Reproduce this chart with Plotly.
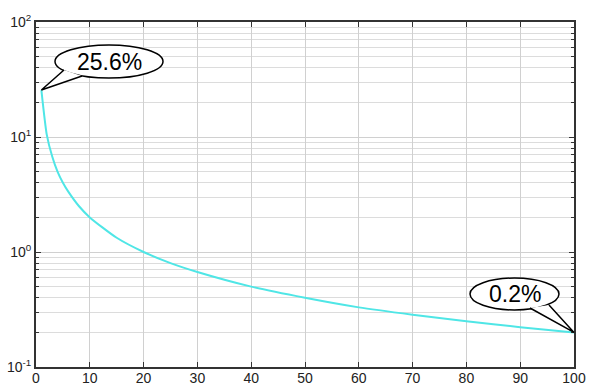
import plotly.graph_objects as go
import math

# Data
x_vals = [1, 2, 3, 4, 5, 6, 8, 10, 15, 20, 25, 30, 40, 50, 60, 70, 80, 90, 100]
y_vals = [25.6, 10.5, 6.8, 5.0, 4.0, 3.35, 2.5, 2.0, 1.33, 1.0, 0.8, 0.67, 0.5, 0.4, 0.33, 0.285, 0.25, 0.222, 0.2]

x_ticks = list(range(0, 101, 10))
y_ticks = [0.1, 1, 10, 100]
y_ticktext = ["10<sup>-1</sup>", "10<sup>0</sup>", "10<sup>1</sup>", "10<sup>2</sup>"]
y_minor = [k * 10 ** e for e in (-1, 0, 1) for k in range(2, 10)]

callout_texts = ["25.6%", "0.2%"]

# Layout geometry (pixels)
W, H = 590, 387
L, R, T, B = 36, 16, 22, 20
PW, PH = W - L - R, H - T - B
XR = [0, 100]
YR = [-1, 2]


def px2paper(X, Y):
    return (X - L) / PW, (H - B - Y) / PH


def data2px(x, y):
    X = L + (x - XR[0]) / (XR[1] - XR[0]) * PW
    Y = H - B - (math.log10(y) - YR[0]) / (YR[1] - YR[0]) * PH
    return X, Y


fig = go.Figure()
fig.add_trace(go.Scatter(x=x_vals, y=y_vals, mode="lines",
                         line=dict(color="#4FE6E6", width=2, shape="spline", smoothing=0.6),
                         hoverinfo="skip", showlegend=False))

shapes = []
annotations = []


def callout(text, cx, cy, rx, ry, base1, base2, tip):
    x0, y0 = px2paper(cx - rx, cy + ry)
    x1, y1 = px2paper(cx + rx, cy - ry)
    shapes.append(dict(type="circle", xref="paper", yref="paper", x0=x0, y0=y0, x1=x1, y1=y1,
                       line=dict(color="black", width=1.5), fillcolor="white", layer="above"))
    pts = [px2paper(*base1), px2paper(*tip), px2paper(*base2)]
    path = "M {} {} L {} {} L {} {}".format(pts[0][0], pts[0][1], pts[1][0], pts[1][1], pts[2][0], pts[2][1])
    shapes.append(dict(type="path", xref="paper", yref="paper", path=path,
                       line=dict(color="black", width=1.5), fillcolor="white", layer="above"))
    ax, ay = px2paper(cx, cy)
    annotations.append(dict(xref="paper", yref="paper", x=ax, y=ay, text=text, showarrow=False,
                            font=dict(family="Liberation Sans, Arial, sans-serif", size=23, color="black"),
                            xanchor="center", yanchor="middle"))


tip1 = data2px(x_vals[0], y_vals[0])
callout(callout_texts[0], 109, 61.5, 54, 16.5, (64, 70), (82, 76), tip1)
tip2 = data2px(x_vals[-1], y_vals[-1])
callout(callout_texts[1], 514.5, 294, 44.5, 16, (530, 308), (549, 305), tip2)

axis_font = dict(family="Liberation Sans, Arial, sans-serif", size=14, color="#222")

fig.update_layout(
    width=W, height=H,
    margin=dict(l=L, r=R, t=T, b=B, autoexpand=False),
    paper_bgcolor="white", plot_bgcolor="white",
    shapes=shapes, annotations=annotations,
    xaxis=dict(range=XR, tickvals=x_ticks, ticks="inside", ticklen=5, tickcolor="#333",
               showgrid=True, gridcolor="#d0d0d0", gridwidth=1, zeroline=False,
               showline=True, linecolor="#333", linewidth=1.8, mirror="allticks",
               tickfont=axis_font, automargin=False, ticklabelstandoff=-3),
    yaxis=dict(type="log", range=YR, tickvals=y_ticks, ticktext=y_ticktext,
               ticks="inside", ticklen=5, tickcolor="#333",
               showgrid=True, gridcolor="#d0d0d0", gridwidth=1, zeroline=False,
               showline=True, linecolor="#333", linewidth=1.8, mirror="allticks",
               tickfont=axis_font, automargin=False,
               minor=dict(tickvals=y_minor, ticks="inside", ticklen=3, tickcolor="#333",
                          showgrid=True, gridcolor="#dcdcdc", gridwidth=1)),
)

fig.write_html("out.html", config={"displayModeBar": False},
               post_script="document.body.style.margin='0';document.body.style.overflow='hidden';")
